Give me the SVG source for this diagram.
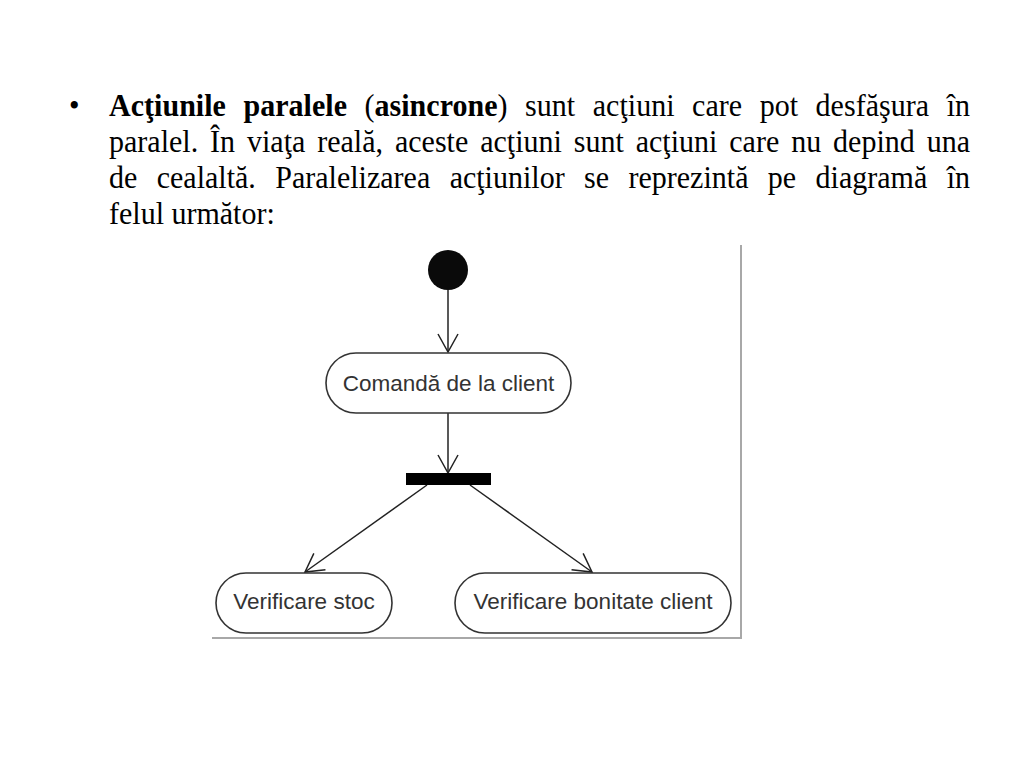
<svg xmlns="http://www.w3.org/2000/svg" width="1024" height="767" viewBox="0 0 1024 767">
<defs>
<style>
.para{font-family:"Liberation Serif","Times New Roman",serif;font-size:30px;fill:#000}
.b{font-weight:bold}
.node rect{fill:#fff;stroke:#333;stroke-width:1.6}
.node text{font-family:"Liberation Sans",Arial,sans-serif;font-size:22.5px;fill:#333;text-anchor:middle}
.conn line{stroke:#222;stroke-width:1.5}
.frame{stroke:#a8a8a8;stroke-width:2;fill:none}
</style>
<marker id="open" viewBox="-20 -12 22 24" refX="0" refY="0" markerWidth="22" markerHeight="24" markerUnits="userSpaceOnUse" orient="auto">
<path d="M-18,-10 L0,0 L-18,10" fill="none" stroke="#222" stroke-width="1.5"/>
</marker>
</defs>
<rect width="1024" height="767" fill="#fff"/>
<g id="text">
<text class="para" x="69" y="0" transform="translate(0,116) scale(1,1.06)">•</text>
<text class="para" x="109" y="0" transform="translate(0,116) scale(1,1.06)" word-spacing="10" textLength="861" lengthAdjust="spacing"><tspan class="b">Acţiunile paralele</tspan> (<tspan class="b">asincrone</tspan>) sunt acţiuni care pot desfăşura în</text>
<text class="para" x="109" y="0" transform="translate(0,152) scale(1,1.06)" word-spacing="4.4" textLength="861" lengthAdjust="spacing">paralel. În viaţa reală, aceste acţiuni sunt acţiuni care nu depind una</text>
<text class="para" x="109" y="0" transform="translate(0,188) scale(1,1.06)" word-spacing="11.9" textLength="861" lengthAdjust="spacing">de cealaltă. Paralelizarea acţiunilor se reprezintă pe diagramă în</text>
<text class="para" x="109" y="0" transform="translate(0,224) scale(1,1.06)">felul următor:</text>
</g>
<g id="frame">
<line class="frame" x1="741" y1="245" x2="741" y2="638"/>
<line class="frame" x1="212" y1="638" x2="742" y2="638"/>
</g>
<g id="connectors" class="conn">
<line x1="448" y1="290" x2="448" y2="352" marker-end="url(#open)"/>
<line x1="448" y1="413" x2="448" y2="473" marker-end="url(#open)"/>
<line x1="427" y1="485" x2="305" y2="572" marker-end="url(#open)"/>
<line x1="470" y1="485" x2="592" y2="572" marker-end="url(#open)"/>
</g>
<g id="start"><circle cx="448" cy="270" r="20" fill="#0a0a0a"/></g>
<g id="comanda" class="node"><rect x="326" y="353" width="245" height="60" rx="30"/><text x="448.5" y="391">Comandă de la client</text></g>
<g id="fork"><rect x="406" y="473" width="85" height="12" fill="#000"/></g>
<g id="stoc" class="node"><rect x="216" y="573" width="176" height="60" rx="30"/><text x="304" y="609">Verificare stoc</text></g>
<g id="bonitate" class="node"><rect x="455" y="573" width="276" height="60" rx="30"/><text x="593" y="609">Verificare bonitate client</text></g>
</svg>
